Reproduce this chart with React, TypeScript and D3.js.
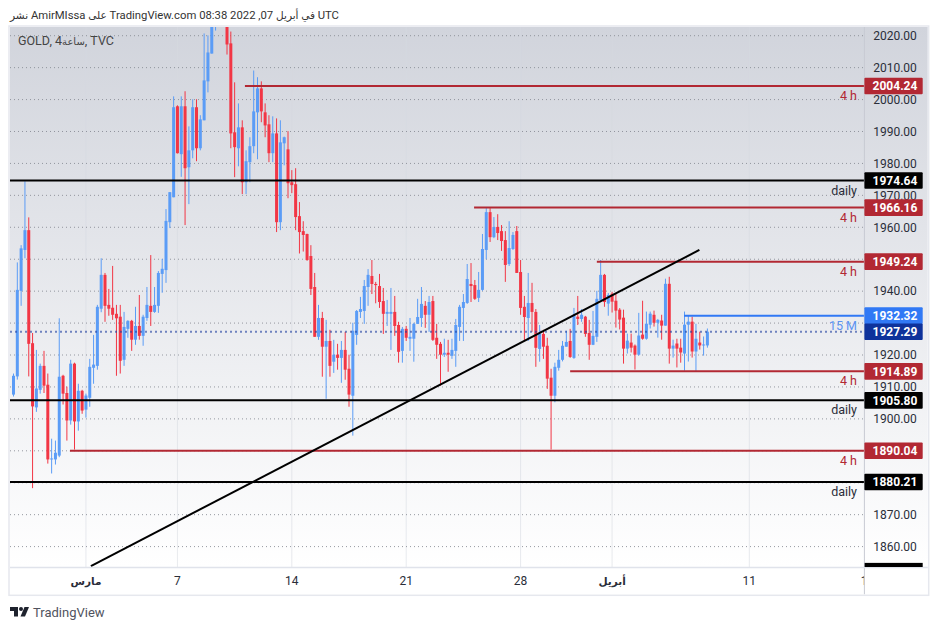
import React from "react";
import * as d3 from "d3";

const opens = [
  1907.6,1913.3,1940.1,1952.9,1959.1,1923.7,1903.6,1909.1,1916.6,1910.7,
  1887.3,1887.3,1888.5,1913.5,1908.1,1899.5,1917.3,1899.2,1908.8,1902.9,
  1906.6,1916.0,1916.6,1934.5,1945.1,1935.7,1934.8,1932.9,1932.0,1918.5,
  1928.2,1930.7,1924.8,1929.1,1926.0,1931.6,1935.4,1933.5,1935.4,1945.4,
  1946.6,1961.6,1969.4,1997.9,1982.9,1997.9,1978.8,1984.1,1997.6,1984.75,
  1993.5,2005.7,2014.4,2026,2036,2048,2034,2017.6,1989.75,1984.75,
  1991.3,1974.1,1980.4,1985.4,1996,2003.5,1996,1992.25,1983.2,1989.4,
  1961.6,1986.3,1984.4,1974.1,1973.5,1963.5,1958.8,1957.9,1951,1941.3,
  1925.7,1931.6,1922.6,1924.4,1917.9,1920.1,1919.1,1921.6,1915.7,1907.25,
  1926.3,1933.5,1933.8,1941.3,1944.75,1942.25,1941.6,1936.9,1932.9,1932.9,
  1933.5,1929.4,1921.3,1928.2,1925.1,1925.1,1929.75,1931.6,1935.4,1932.6,
  1936.9,1925.4,1923.5,1920.1,1920.7,1919.75,1921.3,1928.8,1934.75,1936.3,
  1942.25,1941.9,1937.9,1940.4,1952.9,1964.75,1956.9,1960.1,1958.8,1956,
  1948.5,1953.2,1958.8,1946,1935.1,1931.6,1936.3,1933.5,1921.9,1926.6,
  1922.9,1912.9,1907.25,1916,1918.5,1922.6,1924.4,1919.1,1932,1931.3,
  1932,1926.9,1923.2,1925.7,1937.25,1945.1,1936.1,1939.2,1937,1934.2,
  1931.7,1922,1923.9,1922.95,1920.1,1926.4,1925.1,1929.5,1932.6,1930.1,
  1930.8,1929.2,1942.3,1922,1923.6,1922.3,1920.45,1929.5,1930.45,1921.1,
  1923.9,1923,1923,
];
const highs = [
  1914.2,1949,1954.4,1974.4,1963.1,1926.9,1921.6,1917.3,1921.3,1914.2,
  1893.8,1893.2,1931.5,1913.8,1910.1,1918.5,1917.6,1911,1909.1,1907.9,
  1918.8,1926.3,1935.7,1950.3,1945.7,1940.7,1947.9,1935.7,1935.7,1933.5,
  1930.9,1931,1935.1,1938.8,1932.6,1941.3,1951.3,1941.3,1946.3,1950.1,
  1965.7,1971,2001,1998.2,2001,2002.6,1991.6,2000.1,2000.1,1995.1,
  2020.7,2020.1,2030,2042,2052,2070,2040,2021.3,2005.4,1998.8,
  1993.5,1984.1,1988.2,2009.1,2007,2005.7,1998.8,1995.1,1994.75,1994.1,
  1993.5,1988.4,1990.1,1977.9,1978.5,1967.9,1961.9,1958,1954.4,1945.7,
  1935.7,1933.5,1931,1927.9,1924.75,1923.5,1924.4,1927.25,1920.1,1930.1,
  1934.1,1938.2,1943.5,1946.9,1949.75,1942.9,1945.4,1941,1937.25,1941,
  1938.5,1930.4,1928.8,1929.1,1931.6,1930.1,1937.6,1941.3,1936.9,1938.5,
  1938.5,1929.75,1924.1,1925.1,1924.75,1925.1,1931.3,1935.7,1939.1,1948.5,
  1948.8,1943.5,1946,1957.9,1966,1966,1963.2,1964.1,1960.7,1958.8,
  1961.9,1958.5,1960.4,1949.75,1938.5,1945.7,1942.6,1934.4,1929.4,1927.9,
  1925.4,1915.7,1917.6,1921.6,1924.4,1927.6,1928.2,1934.75,1938.5,1934.4,
  1932.25,1931,1933.8,1940.1,1949.75,1945.4,1939.4,1939.8,1939.4,1934.7,
  1934.2,1926.7,1926.7,1923.3,1933.2,1937,1933.6,1933.6,1933.9,1931.3,
  1932.6,1943.9,1944.5,1924.8,1925.1,1925.1,1933.6,1932.3,1932,1929.8,
  1927.3,1925.8,1928.3,
];
const lows = [
  1907,1912.3,1935.4,1950.3,1913.3,1878.3,1902.2,1907.9,1908.1,1886,
  1882.9,1885.7,1888,1904.5,1893.2,1898.2,1890.4,1896.3,1901.6,1900.4,
  1903.8,1911,1915.4,1933.4,1930.4,1932.3,1931,1913.5,1914.2,1916.6,
  1925.4,1921.3,1923.2,1924.8,1922.9,1930.7,1929.1,1933.2,1933.2,1939.5,
  1942.6,1959.75,1969.4,1983.1,1975.8,1960.7,1967.25,1981.6,1980.7,1984.1,
  1993.5,2002.25,2014.4,2021.6,2030,2030,2014.1,1984.75,1975.7,1979.1,
  1970.4,1970.4,1974.1,1983.2,1981.3,1992.9,1988.2,1980.4,1980.4,1958.5,
  1959.1,1979.4,1969.1,1970.7,1959.1,1951.8,1952.4,1949.5,1938.8,1925.7,
  1924.75,1913.2,1906.3,1913.2,1914.4,1915.4,1911.3,1912.25,1903.8,1894.75,
  1923.2,1931.6,1929.75,1935.4,1939.1,1936.2,1934.75,1926.6,1929.1,1921.6,
  1926,1917.6,1917.6,1924.4,1921.3,1917.9,1929.75,1928.8,1928.5,1927.25,
  1924.4,1918.8,1910.4,1919.4,1914.75,1918.8,1916.3,1924.4,1924.4,1936,
  1936.6,1937.25,1936.6,1940.1,1950,1955.4,1956.6,1956,1952.6,1942.9,
  1947.9,1952.9,1945.7,1932.6,1924.4,1924.4,1927.25,1916.3,1917.9,1918.8,
  1909.4,1890.4,1905.2,1915.1,1918,1922.6,1919.1,1918.8,1929.4,1930.4,
  1925.7,1918.5,1923.1,1924.1,1937.25,1935.1,1932.3,1933.3,1928.6,1928,
  1917.3,1920.45,1920.8,1915.45,1919.8,1924.8,1924.8,1928.3,1928.9,1925.45,
  1924.8,1929.2,1917.3,1919.2,1916.1,1917.6,1915.1,1917.95,1919.2,1914.8,
  1921.7,1919.8,1922.3,
];
const closes = [
  1913.5,1940.4,1953.4,1959.1,1923.5,1903.9,1909.5,1916.6,1910.4,1887.3,
  1887.6,1889.4,1913.2,1907.9,1899.5,1917.3,1899.2,1908.8,1902.6,1907.3,
  1916.3,1917,1935.1,1945.1,1935.4,1934.5,1932.6,1931.5,1918.2,1928.8,
  1930.7,1924.8,1929.1,1926,1932,1935.7,1933.5,1935.7,1945.7,1947,
  1962,1971,1997.6,1983.2,1997.9,1978.5,1984.1,1997.6,1984.75,1993.8,
  2006,2014.75,2026,2036,2048,2034,2017.25,1989.4,1985.1,1991.3,
  1974.1,1980.7,1985.4,1996.3,2003.5,1996.3,1991.9,1983.2,1989.4,1961.6,
  1986.6,1988.2,1973.8,1973.2,1963.2,1958.5,1957.6,1949.75,1940.7,1925.7,
  1931.6,1922.6,1924.4,1916.6,1920.1,1919.1,1921.6,1915.4,1907.6,1927.6,
  1933.8,1934.4,1941.6,1945.1,1942.25,1941.9,1936.6,1932.9,1933.5,1933.5,
  1929.1,1921,1928.2,1925.4,1925.7,1929.75,1931.9,1936,1932.6,1936.6,
  1924.75,1923.2,1920.1,1920.7,1920.1,1921.6,1929.4,1935.1,1936.6,1943.8,
  1941.6,1937.6,1940.4,1953.2,1964.75,1956.9,1960.1,1958.2,1955.7,1948.2,
  1953.5,1957.6,1945.7,1934.75,1931.9,1936.3,1933.5,1922.25,1926.6,1922.6,
  1912.6,1907.25,1916.3,1918.5,1922.9,1924.1,1919.4,1932.6,1931.3,1932.6,
  1926.6,1923.2,1926,1937.6,1945.1,1936.6,1938.8,1936.7,1933.9,1931.1,
  1922,1924.5,1922.3,1920.1,1926.1,1925.1,1929.8,1932.95,1930.1,1931,
  1929.2,1942.3,1922,1922.95,1922,1920.8,1929.5,1930.45,1921.1,1925.1,
  1923,1923.3,1927.3,
];

const priceTicks = [1860,1870,1880,1890,1900,1910,1920,1930,1940,1950,1960,1970,1980,1990,2000,2010,2020];
const timeTickIndex = [19,43,73,103,133,157,193,224];
const timeTickLabel = ["مارس","7","14","21","28","أبريل","11","18"];
const timeTickBold = [true,false,false,false,false,true,false,false];

const levelPrice = [2004.24,1974.64,1966.16,1949.24,1932.32,1914.89,1905.80,1890.04,1880.21];
const levelStart = [60.7,-1,120.8,153,175.9,146,-1,14.8,-1];
const levelCaption = ["4 h","daily","4 h","4 h","15 M","4 h","daily","4 h","daily"];
const levelKind = ["red","black","red","red","blue","red","black","red","black"];
const currentPrice = 1927.29;
const trendIndex = [20.3,179.9];
const trendPrice = [1853.9,1952.9];
const offscreenLabelPrice = 1852.3;

const kindLine: Record<string,string> = { red:"#b22833", black:"#000000", blue:"#3179f5" };
const kindCaption: Record<string,string> = { red:"#b22833", black:"#2a2e39", blue:"#5b93f2" };
const UP = "#5b9cf6";
const DOWN = "#f23645";

const paneLeft = 10, paneRight = 864.4, paneTop = 27, paneBottom = 567, boxRight = 927.7, boxBottom = 594.3, labelRight = 922.7;
const FONT = "Roboto,'DejaVu Sans',sans-serif";

export default function App() {
  const x = d3.scaleLinear().domain([0,182]).range([13.5,707.4]);
  const y = d3.scaleLinear().domain([1860,2020]).range([546.6,35.7]);
  const trend = d3.line<number>().x(d=>x(d)).y((_,i)=>y(trendPrice[i]))(trendIndex) as string;
  const priceFmt = d3.format(".2f");
  const allLabels = [...levelPrice, currentPrice];
  const visibleTicks = priceTicks.filter(p => allLabels.every(l => Math.abs(y(l)-y(p)) >= 8.5));
  return (
    <svg width={938} height={630} style={{position:"absolute",left:0,top:0,display:"block",background:"#fff"}} fontFamily={FONT}>
      <defs>
        <linearGradient id="bg" x1="0" y1="0" x2="0" y2="1">
          <stop offset="0" stopColor="#d1d4dc"/>
          <stop offset="1" stopColor="#ffffff"/>
        </linearGradient>
        <clipPath id="pane"><rect x={paneLeft} y={paneTop} width={paneRight-paneLeft} height={paneBottom-paneTop}/></clipPath>
        <clipPath id="timeAxis"><rect x={paneLeft} y={paneBottom} width={paneRight-paneLeft} height={boxBottom-paneBottom}/></clipPath>
        <clipPath id="priceAxis"><rect x={paneRight} y={paneTop} width={boxRight-paneRight} height={paneBottom-paneTop}/></clipPath>
      </defs>

      <text x={10} y={18.5} fontSize={11.3} fill="#333" direction="ltr"><tspan fontSize={10.5}>نشر</tspan> AmirMIssa <tspan fontSize={10.5}>على</tspan> TradingView.com 08:38 2022 ,07 <tspan fontSize={10.5}>في أبريل</tspan> UTC</text>

      <rect x={paneLeft} y={paneTop} width={boxRight-paneLeft} height={paneBottom-paneTop} fill="url(#bg)"/>
      <rect x={paneLeft} y={paneBottom} width={boxRight-paneLeft} height={boxBottom-paneBottom} fill="#fff"/>

      <g clipPath="url(#pane)">
        {timeTickIndex.map(t=>(
          <line key={t} x1={x(t)} x2={x(t)} y1={paneTop} y2={paneBottom} stroke="#d6d8e0" strokeOpacity={0.55}/>
        ))}
        {priceTicks.map(p=>(
          <line key={p} x1={paneLeft} x2={paneRight} y1={y(p)} y2={y(p)} stroke="#8a8d96" strokeOpacity={0.9} strokeDasharray="1 3"/>
        ))}
        {opens.map((o,i)=>{
          const c = closes[i];
          const col = c>=o ? UP : DOWN;
          const top = y(Math.max(o,c)), bot = y(Math.min(o,c));
          return (
            <g key={i}>
              <line x1={x(i)} x2={x(i)} y1={y(highs[i])} y2={y(lows[i])} stroke={col} strokeWidth={1}/>
              <rect x={x(i)-1.5} y={top} width={3} height={Math.max(bot-top,1)} fill={col}/>
            </g>
          );
        })}
        <line x1={paneLeft} x2={paneRight} y1={y(currentPrice)} y2={y(currentPrice)} stroke="#1d3c9f" strokeOpacity={0.6} strokeWidth={2} strokeDasharray="2 3"/>
        {levelPrice.map((p,i)=>(
          <line key={p} x1={levelStart[i]<0?paneLeft:x(levelStart[i])} x2={paneRight} y1={y(p)} y2={y(p)} stroke={kindLine[levelKind[i]]} strokeWidth={2}/>
        ))}
        <path d={trend} fill="none" stroke="#000" strokeWidth={2}/>
        <text x={18} y={45} fontSize={12.5} fill="#444" direction="ltr">GOLD, 4<tspan fontSize={10}>ساعة</tspan>, TVC</text>
        {levelPrice.map((p,i)=>(
          <text key={p} x={857} y={y(p)+14} textAnchor="end" fontSize={12.5} fill={kindCaption[levelKind[i]]}>{levelCaption[i]}</text>
        ))}
      </g>

      <g fontSize={12} fill="#2a2e39" clipPath="url(#timeAxis)">
        {timeTickIndex.map((t,i)=>(
          <text key={t} x={x(t)} y={585} textAnchor="middle" fontSize={timeTickBold[i]?10.5:12} fontWeight={timeTickBold[i]?700:400}>{timeTickLabel[i]}</text>
        ))}
      </g>

      <line x1={paneRight} x2={paneRight} y1={paneTop} y2={boxBottom} stroke="#c8cad3"/>
      <line x1={paneLeft} x2={boxRight} y1={paneBottom+0.5} y2={paneBottom+0.5} stroke="#e0e3eb" strokeWidth={1.5}/>
      <rect x={paneLeft-1} y={paneTop-1} width={boxRight-paneLeft+2} height={boxBottom-paneTop+2} fill="none" stroke="#e6e8ee" strokeWidth={1.5}/>

      <g fontSize={12} fill="#2a2e39">
        {visibleTicks.map(p=>(
          <text key={p} x={895} y={y(p)+4.3} textAnchor="middle">{priceFmt(p)}</text>
        ))}
      </g>
      {levelPrice.map((p,i)=>(
        <g key={p}>
          <rect x={paneRight} y={y(p)-8.3} width={labelRight-paneRight} height={16.6} rx={1} fill={kindLine[levelKind[i]]}/>
          <text x={895} y={y(p)+4.4} textAnchor="middle" fontSize={12} fontWeight={700} fill="#fff">{priceFmt(p)}</text>
        </g>
      ))}
      <rect x={paneRight} y={y(currentPrice)-8.3} width={labelRight-paneRight} height={16.6} rx={1} fill="#0e329b"/>
      <text x={895} y={y(currentPrice)+4.4} textAnchor="middle" fontSize={12} fontWeight={700} fill="#fff">{priceFmt(currentPrice)}</text>
      <g clipPath="url(#priceAxis)">
        <rect x={paneRight} y={y(offscreenLabelPrice)-8.3} width={labelRight-paneRight} height={16.6} fill="#000"/>
      </g>

      <g fill="#1e222d" transform="translate(10,607)">
        <path d="M0 0H8V9.5H4V4H0Z"/>
        <circle cx={11} cy={2} r={2}/>
        <path d="M14.5 0H19L15 9.5H10.5Z"/>
      </g>
      <text x={33} y={616.5} fontSize={13} fill="#50535e">TradingView</text>
    </svg>
  );
}
